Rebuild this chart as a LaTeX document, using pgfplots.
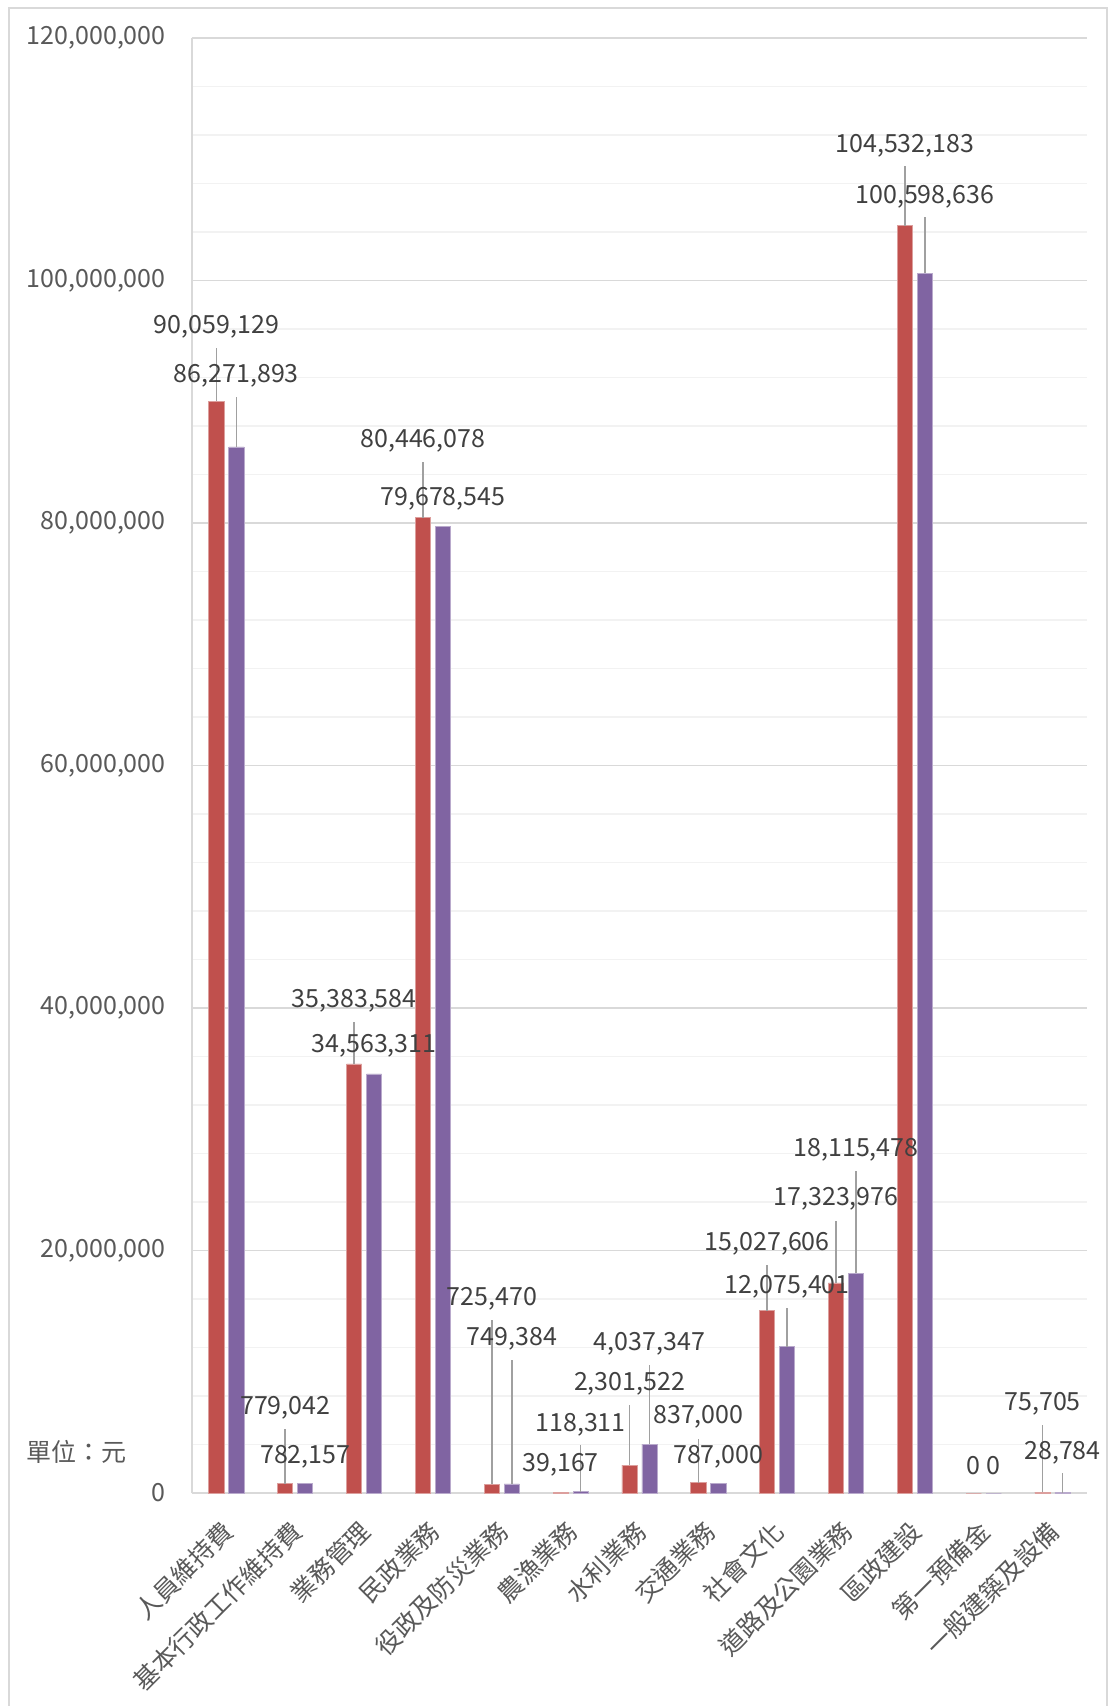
\documentclass[border=0pt]{standalone}
\usepackage{fontspec}
\setmainfont{Noto Sans CJK TC}
\usepackage{pgfplots}
\usepackage{pgfplotstable}
\pgfplotsset{compat=1.18}
\definecolor{barred}{HTML}{C0504D}
\definecolor{barpurple}{HTML}{8064A2}
\definecolor{gridmajor}{HTML}{D9D9D9}
\definecolor{gridminor}{HTML}{F2F2F2}
\definecolor{axisgray}{HTML}{D9D9D9}
\definecolor{framegray}{HTML}{D9D9D9}
\definecolor{ticktext}{HTML}{595959}
\definecolor{labeltext}{HTML}{404040}
\definecolor{leadergray}{HTML}{A0A0A0}
\newcommand{\chartfont}{\fontsize{12.5}{15}\selectfont}

% x: category index, v: value, t: top of leader line, ly: label centre, lab: label
\pgfplotstableread{
x v t ly lab
0 90059129 94440000 96410000 90,059,129
1 779042 5290000 7260000 779,042
2 35383584 38830000 40810000 35,383,584
3 80446078 85020000 87000000 80,446,078
4 725470 14260000 16230000 725,470
5 39167 39167 2510000 39,167
6 2301522 7260000 9240000 2,301,522
7 837000 4480000 6460000 837,000
8 15027606 18800000 20750000 15,027,606
9 17323976 22460000 24450000 17,323,976
10 104532183 109420000 111350000 104,532,183
11 0 0 2510000 0
12 75705 5620000 7610000 75,705
}\redtab

\pgfplotstableread{
x v t ly lab
0 86271893 90400000 92380000 86,271,893
1 782157 782157 3230000 782,157
2 34563311 34563311 37130000 34,563,311
3 79678545 79678545 82240000 79,678,545
4 749384 10940000 12910000 749,384
5 118311 3960000 5850000 118,311
6 4037347 10580000 12560000 4,037,347
7 787000 787000 3230000 787,000
8 12075401 15230000 17180000 12,075,401
9 18115478 26520000 28500000 18,115,478
10 100598636 105200000 107100000 100,598,636
11 0 0 2510000 0
12 28784 1630000 3500000 28,784
}\purpletab

\begin{document}
\begin{tikzpicture}
\draw[framegray, line width=0.8pt] (-91.5pt,-120pt) rectangle (457.5pt,742.5pt);
\begin{axis}[
  at={(0,0)}, anchor=south west,
  scale only axis, width=447.5pt, height=727.5pt,
  xmin=-0.5, xmax=12.5, ymin=0, ymax=120000000,
  axis x line*=bottom, axis y line*=left,
  axis line style={draw=axisgray, line width=0.8pt},
  xtick={0,1,2,3,4,5,6,7,8,9,10,11,12},
  xticklabels={人員維持費,基本行政工作維持費,業務管理,民政業務,役政及防災業務,農漁業務,水利業務,交通業務,社會文化,道路及公園業務,區政建設,第一預備金,一般建築及設備},
  xticklabel style={font=\chartfont, text=ticktext, inner sep=0pt, anchor=east, xshift=1pt, yshift=-16.7pt, rotate=45},
  ytick={0,20000000,40000000,60000000,80000000,100000000,120000000},
  yticklabels={0,{20,000,000},{40,000,000},{60,000,000},{80,000,000},{100,000,000},{120,000,000}},
  yticklabel style={font=\chartfont, text=ticktext, inner sep=0pt, anchor=east, xshift=-13pt},
  scaled y ticks=false,
  minor y tick num=4,
  ymajorgrids, yminorgrids,
  major grid style={draw=gridmajor, line width=0.7pt},
  minor grid style={draw=gridminor, line width=0.7pt},
  major tick length=0pt, minor tick length=0pt,
  clip=false,
]
\addplot[ybar, bar width=7.6pt, bar shift=-5pt, fill=barred, draw=barred!55!white, line width=0.4pt] table[x=x, y=v]{\redtab};
\addplot[ybar, bar width=7.6pt, bar shift=5pt, fill=barpurple, draw=barpurple!55!white, line width=0.4pt] table[x=x, y=v]{\purpletab};
% leader lines
\addplot[draw=none, no markers, mark size=0pt, forget plot, error bars/.cd, y dir=plus, y explicit, error mark=none, error bar style={draw=leadergray, line width=0.8pt}] table[x expr=\thisrow{x}-0.145, y=v, y error expr=\thisrow{t}-\thisrow{v}]{\redtab};
\addplot[draw=none, no markers, mark size=0pt, forget plot, error bars/.cd, y dir=plus, y explicit, error mark=none, error bar style={draw=leadergray, line width=0.8pt}] table[x expr=\thisrow{x}+0.145, y=v, y error expr=\thisrow{t}-\thisrow{v}]{\purpletab};
% data labels
\addplot[only marks, mark=none, forget plot, point meta=explicit symbolic, nodes near coords={\pgfplotspointmeta}, every node near coord/.append style={anchor=center, inner sep=0pt, yshift=-1.3pt, font=\chartfont, text=labeltext}] table[x expr=\thisrow{x}-0.145, y=ly, meta=lab]{\redtab};
\addplot[only marks, mark=none, forget plot, point meta=explicit symbolic, nodes near coords={\pgfplotspointmeta}, every node near coord/.append style={anchor=center, inner sep=0pt, yshift=-1.3pt, font=\chartfont, text=labeltext}] table[x expr=\thisrow{x}+0.145, y=ly, meta=lab]{\purpletab};
\end{axis}
\node[font=\chartfont, text=ticktext, inner sep=0pt, anchor=center] at (-57.75pt,20.5pt) {單位：元};
\pgfresetboundingbox
\path[use as bounding box] (-96pt,-106.5pt) rectangle (459.5pt,746.5pt);
\end{tikzpicture}
\end{document}
